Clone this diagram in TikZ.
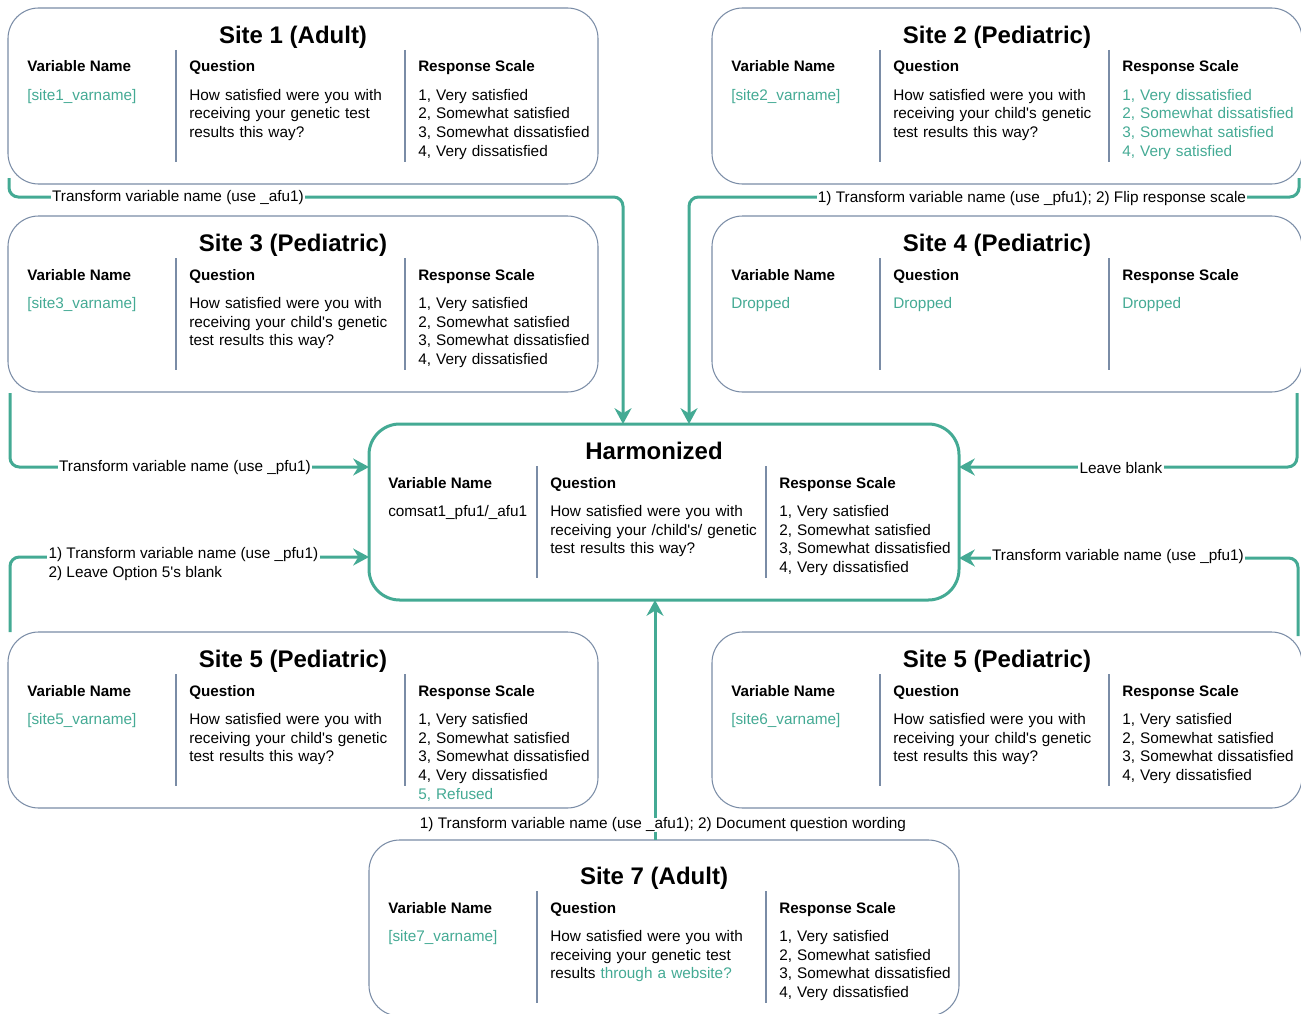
\documentclass[tikz,border=0pt]{standalone}
\usepackage{fontspec}
\setmainfont{Liberation Sans}[Ligatures=TeXOff]
\usetikzlibrary{arrows.meta,calc}
\definecolor{teal1}{RGB}{68,170,148}
\definecolor{boxc}{RGB}{122,140,166}
\newcommand\sitebox[9]{%
 \node[#8] (#1) at (#2,#3) {};
 \node[ttl] (#1-t) at ([shift={(285,35.5+#9)}]#1.north west) {#4};
 \node[hdr] (#1-a) at ([shift={(19,64+#9)}]#1.north west) {Variable Name};
 \node[hdr] (#1-b) at ([shift={(181,64+#9)}]#1.north west) {Question};
 \node[hdr] (#1-c) at ([shift={(410,64+#9)}]#1.north west) {Response Scale};
 \draw[sepl] ([shift={(168,42+#9)}]#1.north west) -- ([shift={(168,154+#9)}]#1.north west);
 \draw[sepl] ([shift={(397,42+#9)}]#1.north west) -- ([shift={(397,154+#9)}]#1.north west);
 \node[body] (#1-v) at ([shift={(19,79+#9)}]#1.north west) {\strut #5};
 \node[body] (#1-q) at ([shift={(181,79+#9)}]#1.north west) {\strut #6};
 \node[body] (#1-r) at ([shift={(410,79+#9)}]#1.north west) {\strut #7};
}
\begin{document}
\begin{tikzpicture}[x=0.75pt,y=-0.75pt,
 sitebx/.style={draw=boxc, line width=0.8pt, rounded corners=23pt, minimum width=442.5pt, minimum height=132pt, inner sep=0pt, outer sep=0pt, anchor=north west},
 harmbx/.style={sitebx, draw=teal1, line width=2.25pt},
 ttl/.style={anchor=base, inner sep=0pt, font=\fontsize{18pt}{21pt}\selectfont\bfseries},
 hdr/.style={anchor=base west, inner sep=0pt, font=\fontsize{11.4pt}{14pt}\selectfont\bfseries},
 body/.style={anchor=north west, inner sep=0pt, text width=170pt, align=left, font=\fontsize{11.5pt}{14pt}\selectfont},
 sepl/.style={draw=boxc, line width=0.8pt},
 conn/.style={draw=teal1, line width=2.25pt, rounded corners=7pt, -{Stealth[length=12pt,width=13pt,inset=4pt,line width=0pt]}},
 lbl/.style={fill=white, inner xsep=1pt, inner ysep=0pt, font=\fontsize{11.5pt}{14pt}\selectfont}
]
\useasboundingbox (0,0) rectangle (1301,1013);

\sitebox{s1}{8}{8}{Site 1 (Adult)}{\textcolor{teal1}{[site1\_varname]}}{How satisfied were you with\\receiving your genetic test\\results this way?}{1, Very satisfied\\2, Somewhat satisfied\\3, Somewhat dissatisfied\\4, Very dissatisfied}{sitebx}{0}

\sitebox{s2}{712}{8}{Site 2 (Pediatric)}{\textcolor{teal1}{[site2\_varname]}}{How satisfied were you with\\receiving your child's genetic\\test results this way?}{\color{teal1}1, Very dissatisfied\\2, Somewhat dissatisfied\\3, Somewhat satisfied\\4, Very satisfied}{sitebx}{0}

\sitebox{s3}{8}{216}{Site 3 (Pediatric)}{\textcolor{teal1}{[site3\_varname]}}{How satisfied were you with\\receiving your child's genetic\\test results this way?}{1, Very satisfied\\2, Somewhat satisfied\\3, Somewhat dissatisfied\\4, Very dissatisfied}{sitebx}{0}

\sitebox{s4}{712}{216}{Site 4 (Pediatric)}{\textcolor{teal1}{Dropped}}{\textcolor{teal1}{Dropped}}{\textcolor{teal1}{Dropped}}{sitebx}{0}

\sitebox{h}{369}{424}{Harmonized}{comsat1\_pfu1/\_afu1}{How satisfied were you with\\receiving your /child's/ genetic\\test results this way?}{1, Very satisfied\\2, Somewhat satisfied\\3, Somewhat dissatisfied\\4, Very dissatisfied}{harmbx}{0}

\sitebox{s5}{8}{632}{Site 5 (Pediatric)}{\textcolor{teal1}{[site5\_varname]}}{How satisfied were you with\\receiving your child's genetic\\test results this way?}{1, Very satisfied\\2, Somewhat satisfied\\3, Somewhat dissatisfied\\4, Very dissatisfied\\\textcolor{teal1}{5, Refused}}{sitebx}{0}

\sitebox{s6}{712}{632}{Site 5 (Pediatric)}{\textcolor{teal1}{[site6\_varname]}}{How satisfied were you with\\receiving your child's genetic\\test results this way?}{1, Very satisfied\\2, Somewhat satisfied\\3, Somewhat dissatisfied\\4, Very dissatisfied}{sitebx}{0}

\sitebox{s7}{369}{840}{Site 7 (Adult)}{\textcolor{teal1}{[site7\_varname]}}{How satisfied were you with\\receiving your genetic test\\results \textcolor{teal1}{through a website?}}{1, Very satisfied\\2, Somewhat satisfied\\3, Somewhat dissatisfied\\4, Very dissatisfied}{sitebx}{9}

% connectors
\coordinate (k1) at (623,197);
\coordinate (k2) at (689,197);
\draw[conn] ([shift={(1,-6)}]s1.south west) |- (k1) -- (k1 |- h.north);
\draw[conn] ([shift={(-3,-6)}]s2.south east) |- (k2) -- (k2 |- h.north);
\draw[conn] ([shift={(2,1)}]s3.south west) |- ([shift={(0,43)}]h.north west);
\draw[conn] ([shift={(-5,1)}]s4.south east) |- ([shift={(0,43)}]h.north east);
\draw[conn] ([shift={(2,0)}]s5.north west) |- ([shift={(0,133)}]h.north west);
\draw[conn] ([shift={(-4,4)}]s6.north east) |- ([shift={(0,134)}]h.north east);
\draw[conn] ([shift={(-9,0)}]s7.north) -- ([shift={(-9,0)}]h.south);

% labels
\node[lbl] (l1) at (178,198) {Transform variable name (use \_afu1)};
\node[lbl] (l2) at (1032,199) {1) Transform variable name (use \_pfu1); 2) Flip response scale};
\node[lbl] (l3) at (185,468) {Transform variable name (use \_pfu1)};
\node[lbl] (l4) at (1121,468) {Leave blank};
\node[lbl, anchor=north west, align=left, inner ysep=0pt] (l5) at (47,545.5) {\strut 1) Transform variable name (use \_pfu1)\\2) Leave Option 5's blank};
\node[lbl] (l6) at (1118,557) {Transform variable name (use \_pfu1)};
\node[lbl] (l7) at (663,825) {1) Transform variable name (use \_afu1); 2) Document question wording};
\end{tikzpicture}
\end{document}
